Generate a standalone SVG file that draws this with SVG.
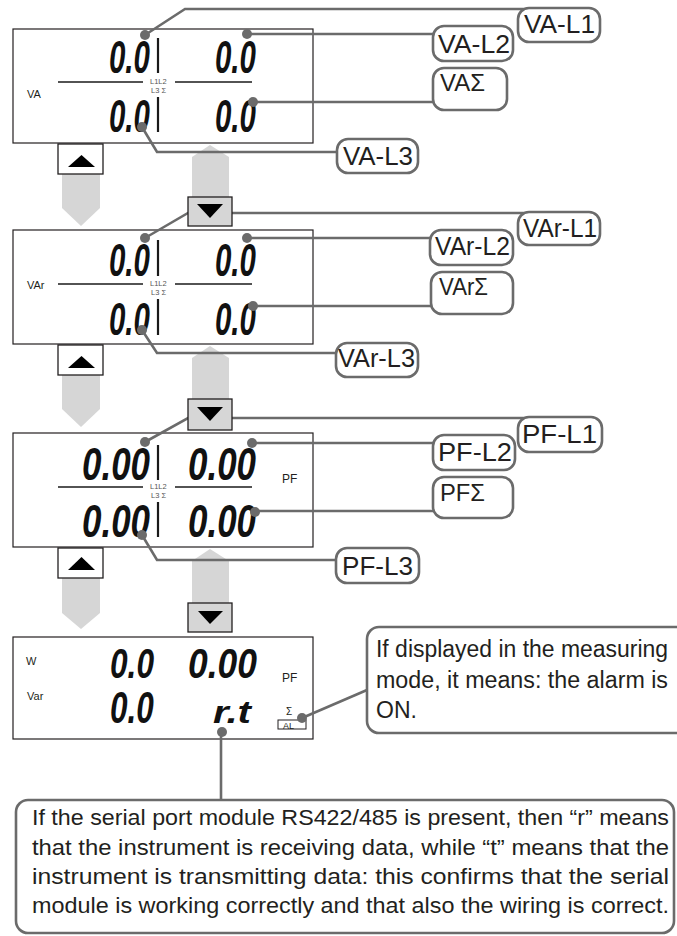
<svg xmlns="http://www.w3.org/2000/svg" width="677" height="936" viewBox="0 0 677 936">
<style>
.panel{fill:#fff;stroke:#231f20;stroke-width:1.2}
.seg{font-family:"Liberation Sans",Arial,sans-serif;font-style:italic;font-weight:bold;font-size:46px;fill:#111}
.unit{font-family:"Liberation Sans",Arial,sans-serif;font-size:11px;fill:#231f20}
.tiny{font-family:"Liberation Sans",Arial,sans-serif;font-size:7.5px;fill:#555}
.bar{stroke:#1a1a1a;stroke-width:2.2}
.hl{stroke:#1a1a1a;stroke-width:1.5}
.conn{fill:none;stroke:#6b6b6b;stroke-width:2.6}
.dot{fill:#6b6b6b}
.lbl{fill:#fff;stroke:#6b6b6b;stroke-width:2.6}
.lt{font-family:"Liberation Sans",Arial,sans-serif;font-size:25px;fill:#231f20}
.ls{font-family:"Liberation Sans",Arial,sans-serif;font-size:23px;fill:#231f20}
.band{fill:#d6d6d6}
.btnU{fill:#fff;stroke:#231f20;stroke-width:1.3}
.btnD{fill:#d6d6d6;stroke:#231f20;stroke-width:1.3}
.tri{fill:#000}
.note{font-family:"Liberation Sans",Arial,sans-serif;font-size:22px;fill:#231f20}
.note2{font-family:"Liberation Sans",Arial,sans-serif;font-size:23px;fill:#231f20}
</style>

<g id="bands">
<polygon class="band" points="62,174 100,174 100,208 81,226 62,208"/>
<polygon class="band" points="192,197 192,157 210,145 229,157 229,197"/>
<polygon class="band" points="62,375 100,375 100,409 81,427 62,409"/>
<polygon class="band" points="192,399 192,358 210,346 229,358 229,399"/>
<polygon class="band" points="62,578 100,578 100,613 81,629 62,613"/>
<polygon class="band" points="192,603 192,561 210,549 229,561 229,603"/>
</g>

<g id="panel-va">
<rect class="panel" x="13" y="29" width="300" height="114"/>
<text class="unit" x="27" y="98">VA</text>
<text class="seg" transform="translate(109,73) scale(0.64,1)">0.0</text>
<text class="seg" transform="translate(215,73) scale(0.64,1)">0.0</text>
<text class="seg" transform="translate(109,132) scale(0.64,1)">0.0</text>
<text class="seg" transform="translate(215,132) scale(0.64,1)">0.0</text>
<line class="bar" x1="158" y1="38" x2="158" y2="73"/>
<line class="bar" x1="158" y1="97" x2="158" y2="132"/>
<line class="hl" x1="58" y1="82" x2="143" y2="82"/>
<line class="hl" x1="175" y1="82" x2="252" y2="82"/>
<text class="tiny" x="150" y="84">L1L2</text>
<text class="tiny" x="151" y="93">L3 Σ</text>
</g>

<g id="panel-var">
<rect class="panel" x="13" y="230" width="300" height="114"/>
<text class="unit" x="27" y="289">VAr</text>
<text class="seg" transform="translate(109,276) scale(0.64,1)">0.0</text>
<text class="seg" transform="translate(215,276) scale(0.64,1)">0.0</text>
<text class="seg" transform="translate(109,335) scale(0.64,1)">0.0</text>
<text class="seg" transform="translate(215,335) scale(0.64,1)">0.0</text>
<line class="bar" x1="158" y1="240" x2="158" y2="276"/>
<line class="bar" x1="158" y1="299" x2="158" y2="335"/>
<line class="hl" x1="58" y1="284" x2="143" y2="284"/>
<line class="hl" x1="175" y1="284" x2="252" y2="284"/>
<text class="tiny" x="150" y="286">L1L2</text>
<text class="tiny" x="151" y="295">L3 Σ</text>
</g>

<g id="panel-pf">
<rect class="panel" x="13" y="433" width="300" height="114"/>
<text class="unit" x="282" y="483" style="font-size:12px">PF</text>
<text class="seg" transform="translate(82,480) scale(0.76,1)">0.00</text>
<text class="seg" transform="translate(188,480) scale(0.76,1)">0.00</text>
<text class="seg" transform="translate(82,537) scale(0.76,1)">0.00</text>
<text class="seg" transform="translate(188,537) scale(0.76,1)">0.00</text>
<line class="bar" x1="158" y1="445" x2="158" y2="480"/>
<line class="bar" x1="158" y1="502" x2="158" y2="537"/>
<line class="hl" x1="58" y1="487" x2="143" y2="487"/>
<line class="hl" x1="175" y1="487" x2="252" y2="487"/>
<text class="tiny" x="150" y="489">L1L2</text>
<text class="tiny" x="151" y="498">L3 Σ</text>
</g>

<g id="panel-meas">
<rect class="panel" x="13" y="637" width="300" height="102"/>
<text class="unit" x="26" y="665">W</text>
<text class="unit" x="27" y="700">Var</text>
<text class="unit" x="282" y="682" style="font-size:12px">PF</text>
<text class="seg" transform="translate(110,678) scale(0.736,1)" style="font-size:43px">0.0</text>
<text class="seg" transform="translate(188,678) scale(0.824,1)" style="font-size:43px">0.00</text>
<text class="seg" transform="translate(110,723) scale(0.70,1)" style="font-size:45px">0.0</text>
<text class="seg" x="213" y="723" textLength="38" lengthAdjust="spacingAndGlyphs" style="font-size:32px">r.t</text>
<text class="unit" x="286" y="715" style="font-size:10px">Σ</text>
<rect x="278" y="720" width="28" height="9" fill="#fff" stroke="#231f20" stroke-width="1"/>
<text class="unit" x="283" y="728.5" style="font-size:9px">AL</text>
</g>

<g id="connectors">
<path class="conn" d="M145,35 L185,9 L530,9"/>
<path class="conn" d="M247,34 L433,34"/>
<path class="conn" d="M253,102 L433,102"/>
<path class="conn" d="M142,127 L157,152 L337,152"/>
<path class="conn" d="M145,238 L188,213 L530,213"/>
<path class="conn" d="M247,238 L430,238"/>
<path class="conn" d="M253,306 L431,306"/>
<path class="conn" d="M142,330 L157,353 L336,353"/>
<path class="conn" d="M145,442 L188,418 L530,418"/>
<path class="conn" d="M252,443 L433,443"/>
<path class="conn" d="M255,511 L433,511"/>
<path class="conn" d="M142,535 L157,560 L336,560"/>
<path class="conn" d="M221,731 L221,800"/>
<path class="conn" d="M302,718 L367,690"/>
<circle class="dot" cx="145" cy="35" r="5"/>
<circle class="dot" cx="247" cy="34" r="5"/>
<circle class="dot" cx="253" cy="102" r="5"/>
<circle class="dot" cx="142" cy="127" r="5"/>
<circle class="dot" cx="145" cy="238" r="5"/>
<circle class="dot" cx="247" cy="238" r="5"/>
<circle class="dot" cx="253" cy="306" r="5"/>
<circle class="dot" cx="142" cy="330" r="5"/>
<circle class="dot" cx="145" cy="442" r="5"/>
<circle class="dot" cx="252" cy="443" r="5"/>
<circle class="dot" cx="255" cy="512" r="5"/>
<circle class="dot" cx="142" cy="535" r="5"/>
<circle class="dot" cx="222" cy="732" r="5"/>
<circle class="dot" cx="302" cy="718" r="5"/>
</g>

<g id="buttons">
<rect class="btnU" x="58" y="144" width="45" height="30"/>
<polygon class="tri" points="68,167 95,167 81.5,155"/>
<rect class="btnD" x="188" y="197" width="44" height="29"/>
<polygon class="tri" points="197,204 223,204 210,218"/>
<rect class="btnU" x="58" y="345" width="45" height="30"/>
<polygon class="tri" points="68,368 95,368 81.5,356"/>
<rect class="btnD" x="188" y="399" width="44" height="31"/>
<polygon class="tri" points="197,407 223,407 210,421"/>
<rect class="btnU" x="58" y="548" width="45" height="30"/>
<polygon class="tri" points="68,570 95,570 81.5,557"/>
<rect class="btnD" x="188" y="603" width="44" height="29"/>
<polygon class="tri" points="198,611 223,611 210,624"/>
</g>

<g id="label-va-l1"><rect class="lbl" x="518" y="8" width="82" height="34" rx="11"/><text class="lt" x="524" y="33" textLength="71" lengthAdjust="spacingAndGlyphs">VA-L1</text></g>
<g id="label-va-l2"><rect class="lbl" x="433" y="26" width="80" height="35" rx="11"/><text class="lt" x="438" y="53" textLength="72" lengthAdjust="spacingAndGlyphs">VA-L2</text></g>
<g id="label-va-sum"><rect class="lbl" x="433" y="68" width="74" height="42" rx="11"/><text class="ls" x="440" y="91" textLength="45" lengthAdjust="spacingAndGlyphs">VAΣ</text></g>
<g id="label-va-l3"><rect class="lbl" x="337" y="139" width="81" height="34" rx="11"/><text class="lt" x="343" y="165" textLength="70" lengthAdjust="spacingAndGlyphs">VA-L3</text></g>

<g id="label-var-l1"><rect class="lbl" x="518" y="212" width="82" height="33" rx="11"/><text class="lt" x="523" y="237" textLength="74" lengthAdjust="spacingAndGlyphs">VAr-L1</text></g>
<g id="label-var-l2"><rect class="lbl" x="430" y="230" width="83" height="35" rx="11"/><text class="lt" x="435" y="255" textLength="75" lengthAdjust="spacingAndGlyphs">VAr-L2</text></g>
<g id="label-var-sum"><rect class="lbl" x="431" y="272" width="82" height="42" rx="11"/><text class="ls" x="439" y="295" textLength="49" lengthAdjust="spacingAndGlyphs">VArΣ</text></g>
<g id="label-var-l3"><rect class="lbl" x="336" y="343" width="82" height="34" rx="11"/><text class="lt" x="338" y="367" textLength="77" lengthAdjust="spacingAndGlyphs">VAr-L3</text></g>

<g id="label-pf-l1"><rect class="lbl" x="518" y="417" width="84" height="35" rx="11"/><text class="lt" x="522" y="443" textLength="75" lengthAdjust="spacingAndGlyphs">PF-L1</text></g>
<g id="label-pf-l2"><rect class="lbl" x="433" y="435" width="82" height="35" rx="11"/><text class="lt" x="438" y="461" textLength="74" lengthAdjust="spacingAndGlyphs">PF-L2</text></g>
<g id="label-pf-sum"><rect class="lbl" x="433" y="477" width="80" height="41" rx="11"/><text class="ls" x="440" y="501" textLength="45" lengthAdjust="spacingAndGlyphs">PFΣ</text></g>
<g id="label-pf-l3"><rect class="lbl" x="336" y="548" width="83" height="35" rx="11"/><text class="lt" x="342" y="575" textLength="71" lengthAdjust="spacingAndGlyphs">PF-L3</text></g>

<g id="note-alarm">
<rect class="lbl" x="367" y="627" width="330" height="106" rx="12"/>
<text class="note2" x="376" y="657" textLength="292" lengthAdjust="spacingAndGlyphs">If displayed in the measuring</text>
<text class="note2" x="376" y="688" textLength="292" lengthAdjust="spacingAndGlyphs">mode, it means: the alarm is</text>
<text class="note2" x="376" y="718">ON.</text>
</g>

<g id="note-serial">
<rect class="lbl" x="16" y="800" width="658" height="133" rx="12"/>
<text class="note" x="32" y="825" textLength="637" lengthAdjust="spacingAndGlyphs">If the serial port module RS422/485 is present, then “r” means</text>
<text class="note" x="32" y="855" textLength="637" lengthAdjust="spacingAndGlyphs">that the instrument is receiving data, while “t” means that the</text>
<text class="note" x="32" y="884" textLength="637" lengthAdjust="spacingAndGlyphs">instrument is transmitting data: this confirms that the serial</text>
<text class="note" x="32" y="913" textLength="637" lengthAdjust="spacingAndGlyphs">module is working correctly and  that also the wiring is correct.</text>
</g>
</svg>
